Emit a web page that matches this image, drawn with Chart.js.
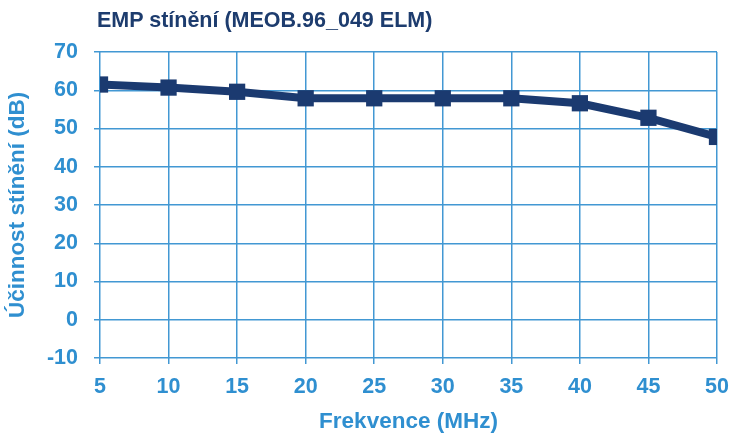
<!DOCTYPE html>
<html>
<head>
<meta charset="utf-8">
<script src="https://cdn.jsdelivr.net/npm/chart.js@4/dist/chart.umd.min.js"></script>
<style>
    body { margin: 0; background: #ffffff; }
    #wrap { position: relative; width: 750px; height: 433px; }
    #title {
        position: absolute; left: 97px; top: 8px;
        font: bold 21.5px "Liberation Sans", Arial, sans-serif;
        color: #1d3c6e;
    }
</style>
</head>
<body>
<div id="wrap">
    <div id="title">EMP stínění (MEOB.96_049 ELM)</div>
    <canvas id="chart" width="750" height="433"></canvas>
</div>
<script>
// Data
const frequencies = [5, 10, 15, 20, 25, 30, 35, 40, 45, 50];
const shielding = [61.5, 60.7, 59.6, 57.9, 57.9, 57.9, 57.9, 56.6, 52.8, 47.8];
const yTicks = [-10, 0, 10, 20, 30, 40, 50, 60, 70];

const lineColor = '#1b3a70';
const gridColor = '#4298d3';
const textColor = '#2f8fd0';
const fontFamily = '"Liberation Sans", Arial, sans-serif';

const ctx = document.getElementById('chart').getContext('2d');

new Chart(ctx, {
    type: 'line',
    data: {
        datasets: [{
            label: 'Účinnost stínění',
            data: frequencies.map((f, i) => ({ x: f, y: shielding[i] })),
            borderColor: lineColor,
            backgroundColor: lineColor,
            borderWidth: 8,
            pointStyle: 'rect',
            pointRadius: 11.5,
            pointBorderWidth: 0,
            tension: 0
        }]
    },
    options: {
        responsive: false,
        animation: false,
        layout: {
            padding: { left: 0, right: 33, top: 52, bottom: 0 }
        },
        plugins: {
            legend: { display: false },
            tooltip: { enabled: false }
        },
        scales: {
            x: {
                type: 'linear',
                min: frequencies[0],
                max: frequencies[frequencies.length - 1],
                afterFit: (scale) => { scale.height = 75; },
                border: { display: false },
                grid: { color: gridColor, lineWidth: 1.5, tickLength: 6 },
                ticks: {
                    stepSize: 5,
                    padding: 10,
                    color: textColor,
                    font: { family: fontFamily, size: 21.5, weight: 'bold' }
                },
                title: {
                    display: true,
                    text: 'Frekvence (MHz)',
                    color: textColor,
                    padding: { top: 0, bottom: 0 },
                    font: { family: fontFamily, size: 22.5, weight: 'bold', lineHeight: 1 }
                }
            },
            y: {
                min: yTicks[0],
                max: yTicks[yTicks.length - 1],
                afterFit: (scale) => { scale.width = 100; },
                afterBuildTicks: (scale) => { scale.ticks = yTicks.map(v => ({ value: v })); },
                border: { display: false },
                grid: { color: gridColor, lineWidth: 1.5, tickLength: 6 },
                ticks: {
                    padding: 16,
                    color: textColor,
                    font: { family: fontFamily, size: 21.5, weight: 'bold' }
                },
                title: {
                    display: true,
                    text: 'Účinnost stínění (dB)',
                    color: textColor,
                    padding: { top: 7, bottom: 0 },
                    font: { family: fontFamily, size: 22.5, weight: 'bold', lineHeight: 1 }
                }
            }
        }
    }
});
</script>
</body>
</html>
